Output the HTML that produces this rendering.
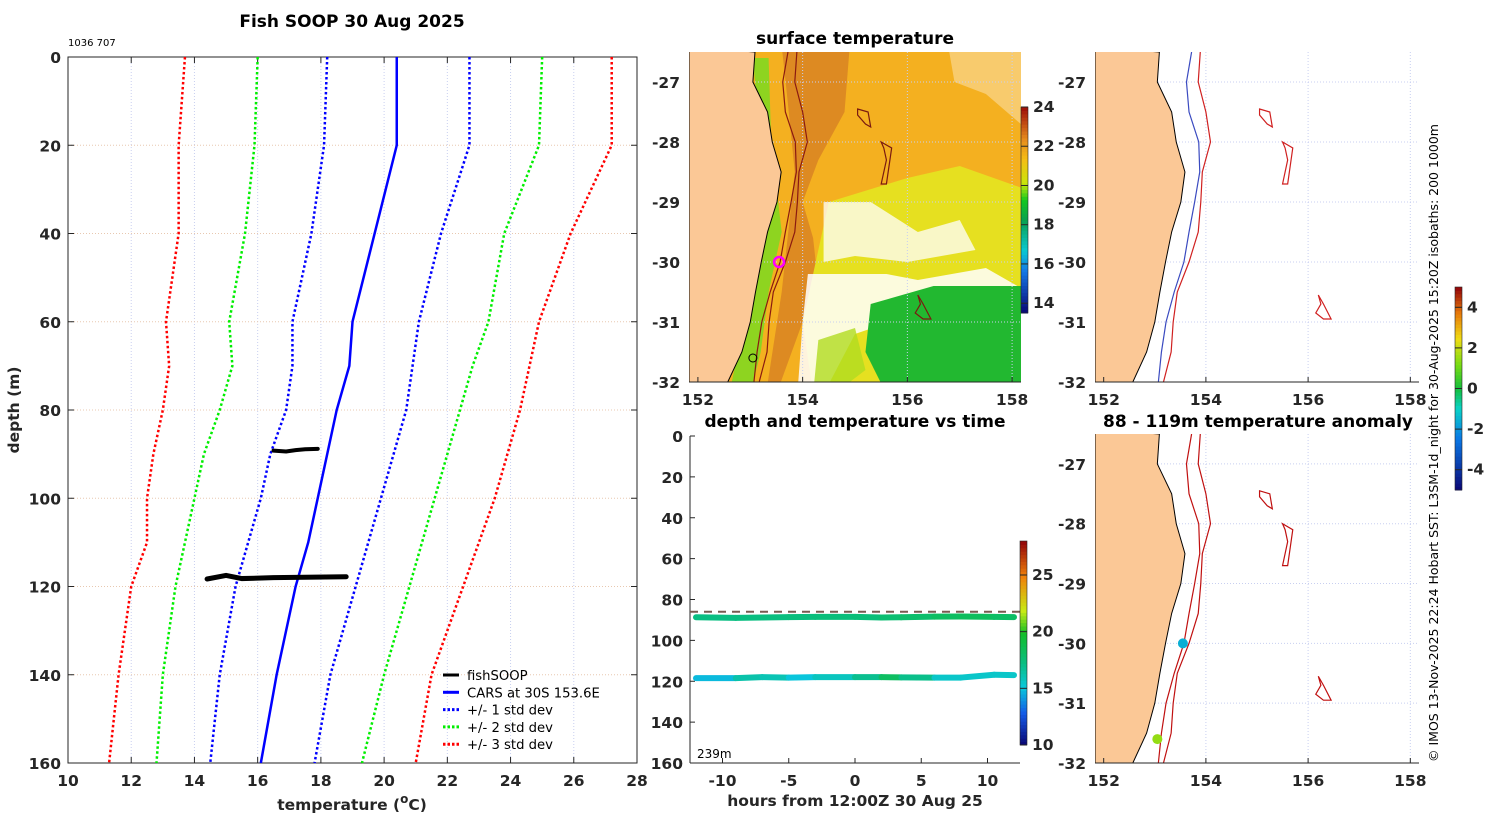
<!DOCTYPE html>
<html><head><meta charset="utf-8"><style>
html,body{margin:0;padding:0;background:#fff;}
svg{display:block;font-family:"DejaVu Sans","Liberation Sans",sans-serif;}
.tk{font-size:15.5px;font-weight:bold;fill:#262626;}
.ttl{font-size:17px;font-weight:bold;fill:#000;}
</style></head><body>
<svg id="fig" width="1500" height="820" viewBox="0 0 1500 820" xmlns="http://www.w3.org/2000/svg"></svg>
<script>
// ---------- profile data (left panel) ----------
const depths = [0, 20, 40, 60, 70, 80, 90, 100, 110, 120, 140, 160];
const carsMean = [20.4, 20.4, 19.7, 19.0, 18.9, 18.5, 18.2, 17.9, 17.6, 17.2, 16.6, 16.1];
const std1Lo = [18.2, 18.1, 17.7, 17.1, 17.1, 16.9, 16.4, 16.1, 15.7, 15.3, 14.8, 14.5];
const std1Hi = [22.7, 22.7, 21.8, 21.1, 20.9, 20.7, 20.3, 19.9, 19.5, 19.1, 18.3, 17.8];
const std2Lo = [16.0, 15.9, 15.6, 15.1, 15.2, 14.8, 14.3, 14.0, 13.7, 13.4, 13.0, 12.8];
const std2Hi = [25.0, 24.9, 23.8, 23.3, 22.8, 22.4, 22.0, 21.6, 21.2, 20.8, 20.0, 19.3];
const std3Lo = [13.7, 13.5, 13.5, 13.1, 13.2, 13.0, 12.7, 12.5, 12.5, 12.0, 11.6, 11.3];
const std3Hi = [27.2, 27.2, 25.9, 24.9, 24.6, 24.3, 23.9, 23.5, 23.0, 22.5, 21.5, 21.0];
const fishTemps1 = [16.5, 16.9, 17.2, 17.5, 17.9];
const fishDepths1 = [89.2, 89.4, 89.1, 88.9, 88.8];
const fishTemps2 = [14.4, 15.0, 15.5, 16.5, 17.5, 18.8];
const fishDepths2 = [118.3, 117.5, 118.2, 118.0, 117.9, 117.8];
const tempTicks = [10, 12, 14, 16, 18, 20, 22, 24, 26, 28];
const depthTicks = [0, 20, 40, 60, 80, 100, 120, 140, 160];
// ---------- time series (middle bottom) ----------
const hours = [-12, -9, -7, -5, -3, 0, 2, 3.5, 6, 8, 10.5, 12];
const shallowDepth = [88.7, 89.0, 88.8, 88.6, 88.5, 88.5, 88.8, 88.7, 88.4, 88.3, 88.5, 88.6];
const shallowTemp = [17.2, 17.2, 17.3, 17.3, 17.4, 17.4, 17.6, 17.8, 18.0, 18.4, 18.2, 18.0];
const deepDepth = [118.5, 118.5, 118.0, 118.2, 118.0, 118.0, 118.0, 118.1, 118.2, 118.2, 116.8, 117.0];
const deepTemp = [14.5, 15.0, 17.5, 14.5, 15.5, 16.0, 17.8, 18.5, 15.5, 15.5, 15.5, 15.5];
const mixedDepth = 86;
const hourTicks = [-10, -5, 0, 5, 10];
// ---------- maps ----------
const lonTicks = [152, 154, 156, 158];
const latTicks = [-27, -28, -29, -30, -31, -32];
const coastLat = [-26.5, -27, -27.5, -28, -28.5, -29, -29.5, -30, -30.5, -31, -31.5, -32];
const coastLon = [153.09, 153.05, 153.33, 153.42, 153.59, 153.51, 153.33, 153.21, 153.10, 153.00, 152.84, 152.57];
const iso200Lon = [153.72, 153.62, 153.67, 153.86, 153.88, 153.78, 153.67, 153.57, 153.38, 153.22, 153.13, 153.07];
const iso1000Lon = [153.89, 153.85, 154.0, 154.09, 153.93, 153.90, 153.85, 153.67, 153.44, 153.36, 153.32, 153.17];
const sstTicks = [14, 16, 18, 20, 22, 24];
const anomTicks = [-4, -2, 0, 2, 4];
const tsTicks = [10, 15, 20, 25];
const anomLon = [153.55, 153.05];
const anomLat = [-30.0, -31.6];
const anomVal = [-1.6, 1.5];
const shipLon = 153.55, shipLat = -30.0;

const svg = document.getElementById('fig');
const NS = 'http://www.w3.org/2000/svg';
function mk(tag, attrs, parent, text) {
  const e = document.createElementNS(NS, tag);
  for (const k in attrs) e.setAttribute(k, attrs[k]);
  if (text !== undefined) e.textContent = text;
  (parent || svg).appendChild(e);
  return e;
}
function interp(stops, t) {
  t = Math.max(0, Math.min(1, t));
  for (let i = 1; i < stops.length; i++) if (t <= stops[i][0]) {
    const a = stops[i - 1], b = stops[i], f = (t - a[0]) / (b[0] - a[0] || 1);
    return `rgb(${a[1].map((v, k) => Math.round(v + (b[1][k] - v) * f)).join(',')})`;
  }
  const l = stops[stops.length - 1][1];
  return `rgb(${l.join(',')})`;
}
const gridCol = '#c8cff0';
const tsStops = [[0, [10, 10, 120]], [0.15, [20, 90, 230]], [0.28, [10, 200, 220]], [0.4, [10, 190, 130]], [0.55, [20, 190, 40]], [0.66, [200, 235, 20]], [0.83, [240, 130, 10]], [1, [150, 10, 10]]];
function tsColor(t) { return interp(tsStops, t); }

// ================= LEFT PANEL =================
const L = { x0: 68, x1: 637, y0: 57, y1: 763 };
const tx = t => L.x0 + (t - 10) / 18 * (L.x1 - L.x0);
const dy = d => L.y0 + d / 160 * (L.y1 - L.y0);
const gLeft = mk('g', {});


tempTicks.forEach(t => {
  if (t > 10 && t < 28) mk('line', { x1: tx(t), x2: tx(t), y1: L.y0, y2: L.y1, stroke: gridCol, 'stroke-dasharray': '1 2' }, gLeft);
  mk('line', { x1: tx(t), x2: tx(t), y1: L.y1, y2: L.y1 - 6, stroke: '#262626' }, gLeft);
  mk('line', { x1: tx(t), x2: tx(t), y1: L.y0, y2: L.y0 + 6, stroke: '#262626' }, gLeft);
  const e = mk('text', { x: tx(t), y: L.y1 + 23, 'text-anchor': 'middle', class: 'tk' }, gLeft, t);
   
});
depthTicks.forEach(d => {
  if (d > 0 && d < 160) mk('line', { x1: L.x0, x2: L.x1, y1: dy(d), y2: dy(d), stroke: '#e8c8b0', 'stroke-dasharray': '1 2' }, gLeft);
  mk('line', { x1: L.x0, x2: L.x0 + 6, y1: dy(d), y2: dy(d), stroke: '#262626' }, gLeft);
  mk('line', { x1: L.x1, x2: L.x1 - 6, y1: dy(d), y2: dy(d), stroke: '#262626' }, gLeft);
  const e = mk('text', { x: L.x0 - 7, y: dy(d) + 6, 'text-anchor': 'end', class: 'tk' }, gLeft, d);
   
});
mk('rect', { x: L.x0, y: L.y0, width: L.x1 - L.x0, height: L.y1 - L.y0, fill: 'none', stroke: '#262626' }, gLeft);
function prof(arr, col, dash, w, name) {
  const p = mk('polyline', { points: arr.map((t, i) => tx(t) + ',' + dy(depths[i])).join(' '), fill: 'none', stroke: col, 'stroke-width': w, 'stroke-dasharray': dash || '' }, gLeft);
  
  
}
prof(std3Lo, '#ff0000', '2.5 2.5', 2.5, 'std3-low-line');
prof(std3Hi, '#ff0000', '2.5 2.5', 2.5, 'std3-high-line');
prof(std2Lo, '#00ee00', '2.5 2.5', 2.5, 'std2-low-line');
prof(std2Hi, '#00ee00', '2.5 2.5', 2.5, 'std2-high-line');
prof(std1Lo, '#0000ff', '2.5 2.5', 2.5, 'std1-low-line');
prof(std1Hi, '#0000ff', '2.5 2.5', 2.5, 'std1-high-line');
prof(carsMean, '#0000ff', '', 2.5, 'cars-mean-line');
const f1 = mk('polyline', { points: fishTemps1.map((t, i) => tx(t) + ',' + dy(fishDepths1[i])).join(' '), fill: 'none', stroke: '#000', 'stroke-width': 4, 'stroke-linecap': 'round' }, gLeft);


const f2 = mk('polyline', { points: fishTemps2.map((t, i) => tx(t) + ',' + dy(fishDepths2[i])).join(' '), fill: 'none', stroke: '#000', 'stroke-width': 5, 'stroke-linecap': 'round' }, gLeft);


const leg = [['fishSOOP', '#000', ''], ['CARS at 30S 153.6E', '#0000ff', ''], ['+/- 1 std dev', '#0000ff', '2.5 2'], ['+/- 2 std dev', '#00ee00', '2.5 2'], ['+/- 3 std dev', '#ff0000', '2.5 2']];
leg.forEach((l, i) => {
  const y = 675 + i * 17.3;
  const g = mk('g', {}, gLeft);
  
  
  mk('line', { x1: 443, x2: 459, y1: y, y2: y, stroke: l[1], 'stroke-width': 3, 'stroke-dasharray': l[2] }, g);
  mk('text', { x: 467, y: y + 5, 'font-size': 13.2, fill: '#000' }, g, l[0]);
});
let t = mk('text', { x: 352, y: 27, 'text-anchor': 'middle', class: 'ttl' }, svg, 'Fish SOOP 30 Aug 2025');
 
t = mk('text', { x: 68, y: 46, 'font-size': 10, fill: '#000' }, svg, '1036 707');
 
t = mk('text', { x: 352, y: 810, 'text-anchor': 'middle', class: 'tk', 'font-size': 17 }, svg);
t.innerHTML = 'temperature (<tspan baseline-shift="super" font-size="12">o</tspan>C)';
 
t = mk('text', { x: 0, y: 0, 'text-anchor': 'middle', class: 'tk', 'font-size': 17, transform: 'translate(19,410) rotate(-90)' }, svg, 'depth (m)');
 

// ================= MAP helpers =================
function mapAxes(x0, x1, y0, y1, latTop) {
  const lonX = lon => x0 + (lon - 151.83) / (158.17 - 151.83) * (x1 - x0);
  const latY = lat => y0 + (latTop - lat) / (latTop + 32) * (y1 - y0);
  return { lonX, latY };
}
function drawMap(name, x0, x1, y0, y1, opts) {
  const g = mk('g', {});
  
  
  const { lonX, latY } = mapAxes(x0, x1, y0, y1, -26.5);
  const cp = 'clip-' + name;
  const cl = mk('clipPath', { id: cp }, g);
  mk('rect', { x: x0, y: y0, width: x1 - x0, height: y1 - y0 }, cl);
  const inner = mk('g', { 'clip-path': `url(#${cp})` }, g);
  if (opts.sst) opts.sst(inner, lonX, latY);
  lonTicks.forEach(l => mk('line', { x1: lonX(l), x2: lonX(l), y1: y0, y2: y1, stroke: gridCol, 'stroke-dasharray': '1 2' }, inner));
  latTicks.forEach(l => mk('line', { x1: x0, x2: x1, y1: latY(l), y2: latY(l), stroke: gridCol, 'stroke-dasharray': '1 2' }, inner));
  const land = mk('polygon', { points: `${x0},${y0 - 5} ` + coastLat.map((la, i) => lonX(coastLon[i]) + ',' + latY(la)).join(' ') + ` ${x0},${y1 + 5}`, fill: '#fbc896', stroke: '#000', 'stroke-width': 1 }, inner);
  
  
  const iso = (arr, col, nm) => {
    const p = mk('polyline', { points: arr.map((lo, i) => lonX(lo) + ',' + latY(coastLat[i])).join(' '), fill: 'none', stroke: col, 'stroke-width': 1.2 }, inner);
     
  };
  iso(iso200Lon, opts.c200, 'isobath-200m');
  iso(iso1000Lon, opts.c1000, 'isobath-1000m');
  const sm = [[[155.05, -27.45], [155.25, -27.5], [155.3, -27.75], [155.2, -27.7], [155.05, -27.55]],
              [[155.5, -28.0], [155.7, -28.1], [155.65, -28.4], [155.6, -28.7], [155.5, -28.7], [155.6, -28.3], [155.55, -28.1]],
              [[156.2, -30.55], [156.3, -30.7], [156.45, -30.95], [156.3, -30.95], [156.15, -30.85], [156.25, -30.7]]];
  sm.forEach(s => mk('polygon', { points: s.map(p => lonX(p[0]) + ',' + latY(p[1])).join(' '), fill: 'none', stroke: opts.csm, 'stroke-width': 1.2 }, inner));
  if (opts.after) opts.after(inner, lonX, latY);
  mk('line', { x1: x0, x2: x1, y1: y1, y2: y1, stroke: '#262626' }, g);
  lonTicks.forEach(l => {
    mk('line', { x1: lonX(l), x2: lonX(l), y1: y1, y2: y1 - 5, stroke: '#262626' }, g);
    const e = mk('text', { x: lonX(l), y: y1 + 23, 'text-anchor': 'middle', class: 'tk' }, g, l);
     
  });
  latTicks.forEach(l => {
    const e = mk('text', { x: x0 - 9, y: latY(l) + 6, 'text-anchor': 'end', class: 'tk' }, g, l);
     
  });
  return g;
}
function colorbar(name, x, yTop, yBot, vmin, vmax, ticks, cfn) {
  const g = mk('g', {});
  
  
  const n = 60;
  for (let i = 0; i < n; i++) {
    const h = (yBot - yTop) / n;
    mk('rect', { x: x, y: yBot - (i + 1) * h, width: 7, height: h + 0.5, fill: cfn(i / (n - 1)) }, g);
  }
  mk('rect', { x: x, y: yTop, width: 7, height: yBot - yTop, fill: 'none', stroke: '#262626', 'stroke-width': 0.6 }, g);
  ticks.forEach(v => {
    const y = yBot - (v - vmin) / (vmax - vmin) * (yBot - yTop);
    mk('line', { x1: x, x2: x + 7, y1: y, y2: y, stroke: '#262626' }, g);
    mk('text', { x: x + 12, y: y + 5, class: 'tk', 'font-size': 13.5 }, g, v);
  });
}
const sstStops = [[0, [10, 10, 120]], [0.2, [20, 120, 230]], [0.3, [10, 200, 210]], [0.45, [10, 160, 80]], [0.55, [20, 200, 30]], [0.63, [200, 230, 10]], [0.75, [245, 190, 20]], [0.85, [230, 140, 30]], [1, [160, 20, 10]]];
function sstColor(t) { return interp(sstStops, t); }
const anomStops = [[0, [10, 10, 120]], [0.25, [10, 120, 230]], [0.4, [10, 210, 200]], [0.5, [20, 190, 60]], [0.62, [120, 220, 20]], [0.75, [240, 220, 20]], [0.88, [230, 120, 10]], [1, [150, 10, 10]]];
function anomColor(t) { return interp(anomStops, t); }

// ================= SST MAP (middle top) =================
drawMap('sst-map', 689, 1021, 52, 382, {
  c200: '#8b1a10', c1000: '#8b1a10', csm: '#7a1a10',
  sst: (g, X, Y) => {
    const P = a => a.map(p => X(p[0]) + ',' + Y(p[1])).join(' ');
    mk('rect', { x: 680, y: 40, width: 360, height: 360, fill: '#f4b020' }, g);
    mk('polygon', { points: P([[153.6, -26.4], [154.9, -26.4], [154.8, -27.5], [154.3, -28.3], [154.0, -29.0], [154.2, -29.6], [154.3, -30.4], [154.0, -31.0], [153.5, -32.2], [153.3, -32.2], [153.6, -30.5], [153.85, -28.5], [153.7, -27.2]]), fill: '#dd8a22' }, g);
    mk('polygon', { points: P([[154.5, -29.0], [156.0, -28.6], [157.0, -28.4], [158.3, -28.8], [158.3, -32.2], [154.2, -32.2], [154.0, -31.0]]), fill: '#e6e020' }, g);
    mk('polygon', { points: P([[154.4, -29.0], [155.3, -29.0], [156.2, -29.5], [157.0, -29.3], [157.3, -29.8], [156.0, -30.0], [155.0, -29.9], [154.4, -30.0]]), fill: '#fff', opacity: 0.75 }, g);
    mk('polygon', { points: P([[154.1, -30.2], [155.6, -30.2], [156.2, -30.3], [157.5, -30.1], [158.3, -30.5], [158.3, -31.0], [156.0, -30.9], [155.0, -31.2], [154.4, -32.2], [153.9, -32.2], [154.0, -31.0]]), fill: '#fff', opacity: 0.85 }, g);
    mk('polygon', { points: P([[155.3, -30.7], [156.5, -30.4], [158.3, -30.4], [158.3, -32.2], [155.6, -32.2], [155.2, -31.5]]), fill: '#22b830' }, g);
    mk('polygon', { points: P([[154.3, -31.3], [155.0, -31.1], [155.2, -31.8], [154.6, -32.2], [154.2, -32.2]]), fill: '#b0dc20', opacity: 0.8 }, g);
    mk('polygon', { points: P([[156.8, -26.5], [158.3, -26.5], [158.3, -27.8], [157.5, -27.2], [156.9, -27.0]]), fill: '#fff', opacity: 0.35 }, g);
    mk('polygon', { points: P([[153.05, -26.6], [153.35, -26.6], [153.4, -28.0], [153.6, -29.5], [153.35, -30.5], [153.2, -31.5], [153.0, -32.2], [152.6, -32.2], [153.0, -30.5], [153.3, -29.0]]), fill: '#8ed420' }, g);
  },
  after: (g, X, Y) => {
    const c = mk('circle', { cx: X(shipLon), cy: Y(shipLat), r: 5, fill: 'none', stroke: '#ff00ff', 'stroke-width': 2.5 }, g);
     
    mk('circle', { cx: X(153.05), cy: Y(-31.6), r: 4, fill: 'none', stroke: '#000', 'stroke-width': 1 }, g);
  }
});
t = mk('text', { x: 855, y: 44, 'text-anchor': 'middle', class: 'ttl' }, svg, 'surface temperature');
 
colorbar('sst-colorbar', 1021, 107, 313, 13.5, 24, sstTicks, sstColor);

// ================= ISOBATH MAP (right top) =================
drawMap('isobath-map', 1095, 1419, 52, 382, { c200: '#3a4ac0', c1000: '#d02020', csm: '#d02020' });
// ================= ANOMALY MAP (right bottom) =================
drawMap('anomaly-map', 1095, 1419, 434, 763, {
  c200: '#c01010', c1000: '#c01010', csm: '#c01010',
  after: (g, X, Y) => {
    anomLon.forEach((lo, i) => {
      const c = mk('circle', { cx: X(lo), cy: Y(anomLat[i]), r: 5, fill: anomColor((anomVal[i] + 5) / 10) }, g);
       
    });
  }
});
t = mk('text', { x: 1258, y: 427, 'text-anchor': 'middle', class: 'ttl' }, svg, '88 - 119m temperature anomaly');
 
colorbar('anomaly-colorbar', 1455, 287, 490, -5, 5, anomTicks, anomColor);
t = mk('text', { x: 0, y: 0, 'font-size': 12.5, fill: '#000', 'text-anchor': 'start', transform: 'translate(1438,762) rotate(-90)' }, svg, '© IMOS 13-Nov-2025 22:24 Hobart SST: L3SM-1d_night for 30-Aug-2025 15:20Z isobaths: 200  1000m');
 

// ================= TIME SERIES (middle bottom) =================
const T = { x0: 690, x1: 1020, y0: 436, y1: 763 };
const hx = h => 855 + h * 13.25;
const hy = d => T.y0 + d / 160 * (T.y1 - T.y0);
const tcol = v => tsColor((v - 10) / 18);
const gT = mk('g', {});


mk('line', { x1: T.x0, x2: T.x0, y1: T.y0, y2: T.y1, stroke: '#262626' }, gT);
mk('line', { x1: T.x0, x2: T.x1, y1: T.y1, y2: T.y1, stroke: '#262626' }, gT);
depthTicks.forEach(d => {
  mk('line', { x1: T.x0, x2: T.x0 + 5, y1: hy(d), y2: hy(d), stroke: '#262626' }, gT);
  mk('text', { x: T.x0 - 7, y: hy(d) + 6, 'text-anchor': 'end', class: 'tk' }, gT, d);
});
hourTicks.forEach(h => {
  mk('line', { x1: hx(h), x2: hx(h), y1: T.y1, y2: T.y1 - 5, stroke: '#262626' }, gT);
  mk('text', { x: hx(h), y: T.y1 + 23, 'text-anchor': 'middle', class: 'tk' }, gT, h);
});
const ml = mk('line', { x1: T.x0, x2: T.x1, y1: hy(mixedDepth), y2: hy(mixedDepth), stroke: '#7a5a50', 'stroke-width': 2, 'stroke-dasharray': '8 6' }, gT);
 
function track(dep, tmp, nm) {
  const g = mk('g', {}, gT);
  
  
  for (let i = 0; i < hours.length - 1; i++) {
    mk('line', { x1: hx(hours[i]), x2: hx(hours[i + 1]), y1: hy(dep[i]), y2: hy(dep[i + 1]), stroke: tcol((tmp[i] + tmp[i + 1]) / 2), 'stroke-width': 6, 'stroke-linecap': 'round' }, g);
  }
}
track(shallowDepth, shallowTemp, 'shallow-sensor-track');
track(deepDepth, deepTemp, 'deep-sensor-track');
mk('text', { x: 697, y: 758, 'font-size': 12, fill: '#000' }, gT, '239m');
t = mk('text', { x: 855, y: 427, 'text-anchor': 'middle', class: 'ttl' }, svg, 'depth and temperature vs time');
 
t = mk('text', { x: 855, y: 806, 'text-anchor': 'middle', class: 'tk', 'font-size': 17 }, svg, 'hours from 12:00Z 30 Aug 25');
 
colorbar('time-temp-colorbar', 1020, 541, 745, 10, 28, tsTicks, tsColor);
</script>
</body></html>
